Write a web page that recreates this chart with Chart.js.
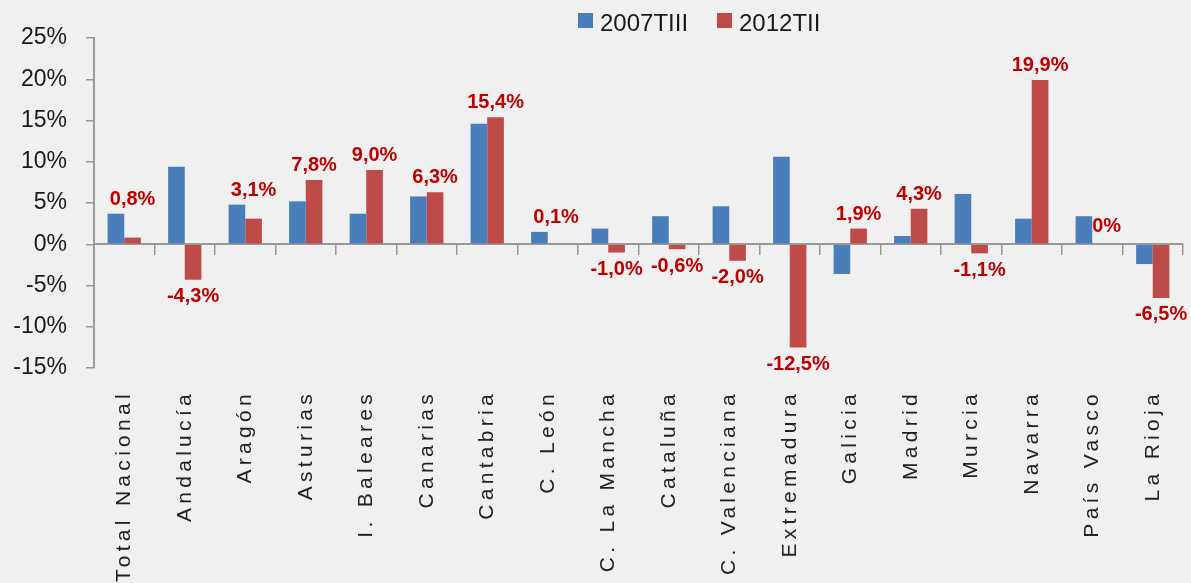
<!DOCTYPE html>
<html>
<head>
<meta charset="utf-8">
<script src="https://cdn.jsdelivr.net/npm/chart.js@4"></script>
<style>
    html, body { margin: 0; padding: 0; background: #eff0ef; }
    #wrap { position: relative; width: 1191px; height: 583px; }
    .legend-item { position: absolute; top: 9px; display: flex; align-items: flex-start;
        font: 24px "Liberation Sans", Arial, sans-serif; color: #1a1a1a; }
    .legend-box { width: 15px; height: 15px; margin: 4px 7px 0 0; }
</style>
</head>
<body>
<div id="wrap">
    <canvas id="chart" width="1191" height="583"></canvas>
    <div id="legend"></div>
</div>
<script>
// --- DATA ---
const categories = ['Total Nacional', 'Andalucía', 'Aragón', 'Asturias', 'I. Baleares', 'Canarias',
    'Cantabria', 'C. León', 'C. La Mancha', 'Cataluña', 'C. Valenciana', 'Extremadura',
    'Galicia', 'Madrid', 'Murcia', 'Navarra', 'País Vasco', 'La Rioja'];
const seriesNames = ['2007TIII', '2012TII'];
const serie2007 = [3.7, 9.4, 4.8, 5.2, 3.7, 5.8, 14.6, 1.5, 1.9, 3.4, 4.6, 10.6, -3.6, 1.0, 6.1, 3.1, 3.4, -2.4];
const serie2012 = [0.8, -4.3, 3.1, 7.8, 9.0, 6.3, 15.4, 0.1, -1.0, -0.6, -2.0, -12.5, 1.9, 4.3, -1.1, 19.9, 0, -6.5];
const yTicks = [-15, -10, -5, 0, 5, 10, 15, 20, 25];

const colors = ['#4a7ebb', '#be4b48'];
const sans = '"Liberation Sans", Arial, sans-serif';
const axisGray = '#9a9a9a';

const fmtPct = v => (v === 0 ? '0' : v.toFixed(1).replace('.', ',')) + '%';

// red value labels, placed above the taller bar of each group or below negative bars
const barLabels = {
    id: 'barLabels',
    afterDatasetsDraw(chart) {
        const ctx = chart.ctx;
        const blue = chart.getDatasetMeta(0).data;
        const red = chart.getDatasetMeta(1).data;
        const zero = chart.scales.y.getPixelForValue(0);
        ctx.save();
        ctx.font = 'bold 20px ' + sans;
        ctx.fillStyle = '#c00000';
        red.forEach((bar, i) => {
            const v = serie2012[i];
            const txt = fmtPct(v);
            if (v > 0) {
                ctx.textAlign = 'center';
                ctx.textBaseline = 'alphabetic';
                ctx.fillText(txt, bar.x, Math.min(bar.y, blue[i].y, zero) - 9);
            } else if (v < 0) {
                ctx.textAlign = 'center';
                ctx.textBaseline = 'top';
                ctx.fillText(txt, bar.x, bar.y + 7);
            } else {
                ctx.textAlign = 'left';
                ctx.textBaseline = 'alphabetic';
                ctx.fillText(txt, bar.x - bar.width / 2, zero - 12);
            }
        });
        ctx.restore();
    }
};

// wide letter spacing on the rotated category labels
const spacedLabels = {
    id: 'spacedLabels',
    beforeDraw(chart) {
        const s = chart.scales.x2;
        if (!s || s._spaced) return;
        const orig = s.drawLabels;
        s.drawLabels = function (area) {
            const c = this.ctx;
            const prev = c.letterSpacing;
            c.letterSpacing = '4.3px';
            orig.call(this, area);
            c.letterSpacing = prev;
        };
        s._spaced = true;
    }
};

const chart = new Chart(document.getElementById('chart'), {
    type: 'bar',
    data: {
        labels: categories,
        datasets: [
            { label: seriesNames[0], data: serie2007, backgroundColor: colors[0], xAxisID: 'x', yAxisID: 'y' },
            { label: seriesNames[1], data: serie2012, backgroundColor: colors[1], xAxisID: 'x', yAxisID: 'y' }
        ]
    },
    options: {
        responsive: false,
        animation: false,
        layout: { padding: { top: 38, right: 8, bottom: 0, left: 0 } },
        datasets: { bar: { categoryPercentage: 0.55, barPercentage: 1.0, borderWidth: 0 } },
        plugins: {
            legend: { display: false },
            tooltip: { enabled: false }
        },
        scales: {
            // axis line at 0% with tick marks between categories
            x: {
                type: 'category',
                position: { y: 0 },
                offset: true,
                ticks: { display: false },
                grid: { display: true, drawOnChartArea: false, drawTicks: true, tickLength: 10, offset: true, color: axisGray, lineWidth: 1.5 },
                border: { display: true, color: axisGray, width: 2 }
            },
            // category names along the bottom
            x2: {
                type: 'category',
                position: 'bottom',
                offset: true,
                grid: { display: false, drawTicks: false },
                border: { display: false },
                ticks: {
                    minRotation: 90, maxRotation: 90, autoSkip: false, padding: 22,
                    color: '#222', font: { family: sans, size: 21 }
                },
                afterFit(s) { s.height = 215; s.paddingLeft = 0; s.paddingRight = 0; }
            },
            y: {
                min: yTicks[0],
                max: yTicks[yTicks.length - 1],
                afterBuildTicks(s) { s.ticks = yTicks.map(v => ({ value: v })); },
                ticks: { padding: 19, color: '#1a1a1a', font: { family: sans, size: 23 }, callback: v => v + '%' },
                grid: { display: true, drawOnChartArea: false, drawTicks: true, tickLength: 8, color: axisGray, lineWidth: 1.5 },
                border: { display: true, color: axisGray, width: 2 },
                afterFit(s) { s.width = 94; }
            }
        }
    },
    plugins: [barLabels, spacedLabels]
});

// legend built from the datasets
const legendLeft = [578, 717];
const legend = document.getElementById('legend');
chart.data.datasets.forEach((ds, i) => {
    const item = document.createElement('div');
    item.className = 'legend-item';
    item.style.left = legendLeft[i] + 'px';
    item.innerHTML = '<span class="legend-box" style="background:' + ds.backgroundColor + '"></span>' + ds.label;
    legend.appendChild(item);
});
</script>
</body>
</html>
